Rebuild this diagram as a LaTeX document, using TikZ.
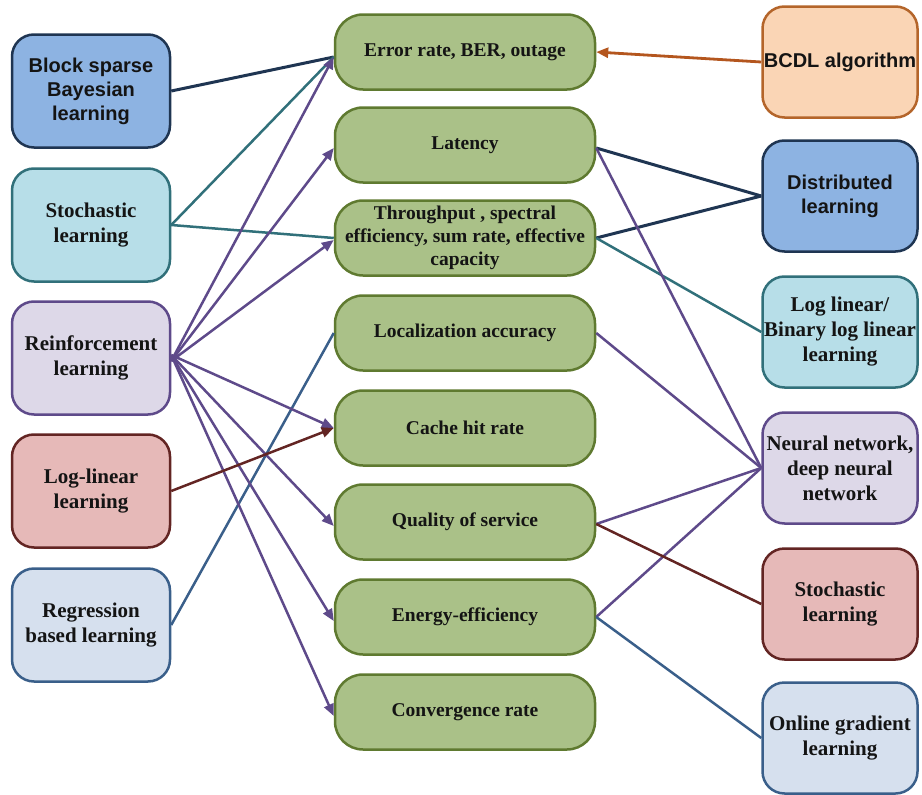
\documentclass[tikz,border=0pt]{standalone}
\usepackage{fontspec}
\setmainfont{Liberation Serif}
\newfontfamily\arialfont{Liberation Sans}
\usetikzlibrary{arrows.meta}
\definecolor{gfill}{RGB}{170,193,136}
\definecolor{gline}{RGB}{95,122,48}
\definecolor{navyline}{RGB}{31,53,82}
\definecolor{bluefill}{RGB}{141,179,226}
\definecolor{tealline}{RGB}{49,112,122}
\definecolor{tealfill}{RGB}{183,222,232}
\definecolor{purpline}{RGB}{94,74,138}
\definecolor{purpfill}{RGB}{221,216,232}
\definecolor{redline}{RGB}{99,37,35}
\definecolor{redfill}{RGB}{230,185,184}
\definecolor{bgline}{RGB}{58,95,138}
\definecolor{bgfill}{RGB}{214,224,238}
\definecolor{orline}{RGB}{180,101,42}
\definecolor{orarrow}{RGB}{180,86,30}
\definecolor{orfill}{RGB}{250,213,181}
\definecolor{txt}{RGB}{20,20,20}
\begin{document}
\begin{tikzpicture}[x=1pt,y=-1pt,
  box/.style={draw, line width=2.5pt, rounded corners=22pt, align=center, inner sep=0pt, text=txt,
    font=\fontsize{21}{25}\selectfont\bfseries},
  sansbox/.style={font=\arialfont\fontsize{20}{24}\selectfont\bfseries},
  gbox/.style={box, fill=gfill, draw=gline, minimum width=260pt, minimum height=75pt, rounded corners=28pt,
    font=\fontsize{19.5}{23}\selectfont\bfseries},
  lbox/.style={box, minimum width=158pt, minimum height=113pt},
  rbox/.style={box, minimum width=155pt, minimum height=111pt},
  navybox/.style={fill=bluefill, draw=navyline},
  tealbox/.style={fill=tealfill, draw=tealline},
  purpbox/.style={fill=purpfill, draw=purpline},
  redbox/.style={fill=redfill, draw=redline},
  bgbox/.style={fill=bgfill, draw=bgline},
  orbox/.style={fill=orfill, draw=orline},
  conn/.style={line width=2.5pt},
  tip/.style={-{Triangle[length=12pt,width=10pt]}}
]
\useasboundingbox (0,0) rectangle (922,795);
% middle column
\node[gbox] (err) at (465,52) {Error rate, BER, outage};
\node[gbox] (lat) at (465,145) {Latency};
\node[gbox] (thr) at (465,238) {Throughput , spectral\\efficiency, sum rate, effective\\capacity};
\node[gbox] (loc) at (465,333) {Localization accuracy};
\node[gbox] (cache) at (465,428) {Cache hit rate};
\node[gbox] (qos) at (465,522) {Quality of service};
\node[gbox] (ene) at (465,617) {Energy-efficiency};
\node[gbox] (conv) at (465,712) {Convergence rate};
% left column
\node[lbox,navybox,sansbox] (bsbl) at (91,91) {Block sparse\\Bayesian\\learning};
\node[lbox,tealbox] (stl) at (91,225) {Stochastic\\learning};
\node[lbox,purpbox] (rl) at (91,358) {Reinforcement\\learning};
\node[lbox,redbox] (llin) at (91,491) {Log-linear\\learning};
\node[lbox,bgbox] (reg) at (91,625) {Regression\\based learning};
% right column
\node[rbox,orbox,sansbox] (bcdl) at (840,62) {BCDL algorithm};
\node[rbox,navybox,sansbox] (dist) at (840,196) {Distributed\\learning};
\node[rbox,tealbox] (blll) at (840,332) {Log linear/\\Binary log linear\\learning};
\node[rbox,purpbox] (nn) at (840,468) {Neural network,\\deep neural\\network};
\node[rbox,redbox] (str) at (840,604) {Stochastic\\learning};
\node[rbox,bgbox] (ogl) at (840,738) {Online gradient\\learning};
% left connectors
\coordinate (errw) at ([yshift=-5pt]err.west);
\draw[conn,navyline,line width=3pt] (bsbl.east) -- (errw);
\draw[conn,tealline] (stl.east) -- (errw);
\draw[conn,tealline] (stl.east) -- (thr.west);
\draw[conn,bgline] (reg.east) -- (loc.west);
\draw[conn,purpline,tip] ([yshift=-3pt]rl.east) -- (errw);
\draw[conn,purpline,tip] ([yshift=-3pt]rl.east) -- ([yshift=-3pt]lat.west);
\draw[conn,purpline,tip] ([yshift=-3pt]rl.east) -- ([yshift=-2pt]thr.west);
\draw[conn,purpline,tip] ([yshift=3pt]rl.east) -- (cache.west);
\draw[conn,purpline,tip] ([yshift=3pt]rl.east) -- ([yshift=-4pt]qos.west);
\draw[conn,purpline,tip] ([yshift=3pt]rl.east) -- ([yshift=-4pt]ene.west);
\draw[conn,purpline,tip] ([yshift=3pt]rl.east) -- ([yshift=-4pt]conv.west);
\draw[conn,redline,tip] (llin.east) -- (cache.west);
% right connectors
\draw[conn,orarrow,tip,line width=2.8pt] (bcdl.west) -- (err.east);
\draw[conn,navyline,line width=3pt] (dist.west) -- ([yshift=-3pt]lat.east);
\draw[conn,navyline,line width=3pt] (dist.west) -- (thr.east);
\draw[conn,tealline] (blll.west) -- (thr.east);
\draw[conn,purpline] (nn.west) -- ([yshift=-3pt]lat.east);
\draw[conn,purpline] (nn.west) -- (loc.east);
\draw[conn,purpline] (nn.west) -- ([yshift=-2pt]qos.east);
\draw[conn,purpline] (nn.west) -- (ene.east);
\draw[conn,redline] (str.west) -- ([yshift=-2pt]qos.east);
\draw[conn,bgline] (ogl.west) -- (ene.east);
\end{tikzpicture}
\end{document}
